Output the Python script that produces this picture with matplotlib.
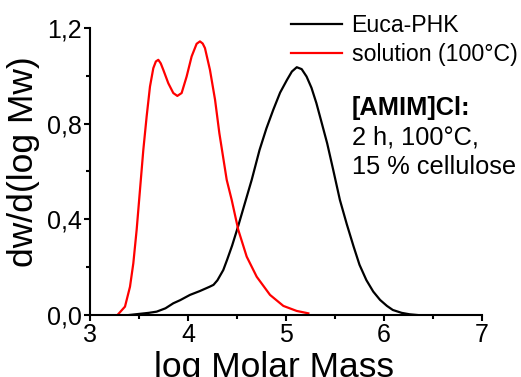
import matplotlib
matplotlib.use("Agg")
import matplotlib.pyplot as plt
from matplotlib.ticker import MultipleLocator, FuncFormatter

plt.rcParams['font.family'] = ['Liberation Sans', 'DejaVu Sans']

# Data
red_x = [3.289, 3.357, 3.408, 3.442, 3.476, 3.510, 3.544, 3.578, 3.612, 3.646, 3.672, 3.697,
         3.722, 3.748, 3.799, 3.850, 3.891, 3.935, 3.986, 4.037, 4.088, 4.122, 4.150, 4.173,
         4.224, 4.276, 4.320, 4.395, 4.446, 4.513, 4.599, 4.701, 4.837, 4.973, 5.109, 5.228]
red_y = [0.004, 0.035, 0.118, 0.216, 0.356, 0.523, 0.690, 0.830, 0.955, 1.032, 1.060, 1.067,
         1.052, 1.025, 0.969, 0.928, 0.916, 0.928, 0.997, 1.081, 1.134, 1.144, 1.135, 1.116,
         1.025, 0.900, 0.760, 0.565, 0.481, 0.356, 0.244, 0.160, 0.084, 0.038, 0.017, 0.007]

blk_x = [3.40, 3.51, 3.60, 3.68, 3.77, 3.85, 3.92, 4.02, 4.12, 4.22, 4.26, 4.30, 4.36, 4.40,
         4.45, 4.51, 4.58, 4.65, 4.73, 4.80, 4.87, 4.94, 5.01, 5.06, 5.11, 5.16, 5.21, 5.26, 5.31,
         5.36, 5.42, 5.48, 5.55, 5.62, 5.69, 5.75, 5.82, 5.89, 5.96, 6.03, 6.09, 6.18, 6.26, 6.34]
blk_y = [0.0, 0.005, 0.009, 0.014, 0.028, 0.049, 0.062, 0.084, 0.100, 0.118, 0.126, 0.145,
         0.188, 0.232, 0.290, 0.369, 0.467, 0.565, 0.69, 0.78, 0.858, 0.93, 0.983, 1.018, 1.036,
         1.028, 0.997, 0.95, 0.886, 0.81, 0.718, 0.61, 0.481, 0.38, 0.286, 0.21, 0.146, 0.098,
         0.063, 0.038, 0.021, 0.009, 0.003, 0.0]

labels = ["Euca-PHK", "solution (100°C)"]
annot_lines = ["[AMIM]Cl:", "2 h, 100°C,", "15 % cellulose"]

fig = plt.figure(figsize=(5.21, 3.77), dpi=100)
ax = fig.add_axes([90/521, 1-315/377, 392/521, 287/377])

ax.plot(blk_x, blk_y, color='black', lw=1.6, label=labels[0])
ax.plot(red_x, red_y, color='#ff0000', lw=1.6, label=labels[1])

ax.set_xlim(3, 7)
ax.set_ylim(0, 1.2)
ax.xaxis.set_major_locator(MultipleLocator(1))
ax.xaxis.set_minor_locator(MultipleLocator(0.5))
ax.yaxis.set_major_locator(MultipleLocator(0.4))
ax.yaxis.set_minor_locator(MultipleLocator(0.2))
ax.xaxis.set_major_formatter(FuncFormatter(lambda v, p: f"{v:.0f}"))
ax.yaxis.set_major_formatter(FuncFormatter(lambda v, p: f"{v:.1f}".replace('.', ',')))

for s in ['top', 'right']:
    ax.spines[s].set_visible(False)
for s in ['left', 'bottom']:
    ax.spines[s].set_linewidth(1.5)

ax.tick_params(which='major', direction='out', length=4.5, width=1.5, labelsize=18, pad=1.5)
ax.tick_params(which='minor', direction='out', length=3, width=1.5)

ax.set_xlabel("log Molar Mass", fontsize=25.5)
ax.set_ylabel("dw/d(log Mw)", fontsize=25.5)
ax.xaxis.set_label_coords(0.469, -0.125)
ax.xaxis.label.set_va('top')
ax.yaxis.set_label_coords(-0.128, 0.533)

leg = ax.legend(loc='upper right', bbox_to_anchor=(1.09, 1.05), frameon=False,
                fontsize=16.7, handlelength=2.2, handletextpad=0.4, labelspacing=0.28,
                borderaxespad=0, borderpad=0)

ax.text(352, 377-108, annot_lines[0], transform=None, fontsize=18.3, fontweight='bold', va='center', ha='left')
ax.text(352, 377-138, annot_lines[1], transform=None, fontsize=18.3, va='center', ha='left')
ax.text(352, 377-167, annot_lines[2], transform=None, fontsize=18.3, va='center', ha='left')

fig.savefig("out.png", dpi=100)
